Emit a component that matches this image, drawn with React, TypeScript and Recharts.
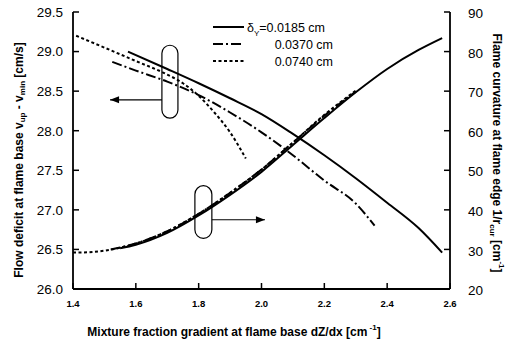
import {
  ComposedChart,
  Line,
  XAxis,
  YAxis,
  Legend,
  ReferenceArea,
  ReferenceLine,
} from "recharts";

// mixture fraction gradient dZ/dx [1/cm] and the matching flow deficit [cm/s]
const gradSolidDeficit = [1.575, 1.7, 1.8, 1.9, 2.0, 2.1, 2.2, 2.3, 2.4, 2.5, 2.575];
const deficitSolid = [29.0, 28.78, 28.6, 28.41, 28.21, 27.96, 27.69, 27.4, 27.09, 26.77, 26.46];

const gradDashDeficit = [1.525, 1.6, 1.7, 1.8, 1.9, 2.0, 2.1, 2.2, 2.3, 2.36];
const deficitDash = [28.87, 28.76, 28.62, 28.45, 28.23, 27.98, 27.69, 27.37, 27.08, 26.8];

const gradDotDeficit = [1.41, 1.5, 1.6, 1.7, 1.75, 1.8, 1.85, 1.9, 1.95];
const deficitDot = [29.2, 29.05, 28.88, 28.71, 28.6, 28.44, 28.23, 27.98, 27.65];

// flame curvature at the flame edge [1/cm]
const gradSolidCurv = [1.55, 1.6, 1.7, 1.8, 1.9, 2.0, 2.1, 2.2, 2.3, 2.4, 2.5, 2.575];
const curvSolid = [30.3, 31.2, 34.2, 38.6, 43.8, 49.6, 56.4, 63.2, 69.7, 75.6, 80.4, 83.4];

const gradDashCurv = [1.52, 1.6, 1.7, 1.8, 1.9, 2.0, 2.1, 2.2, 2.3];
const curvDash = [30.0, 31.5, 34.6, 39.0, 44.3, 50.2, 57.0, 63.8, 69.9];

const gradDotCurv = [1.4, 1.45, 1.5, 1.6, 1.7, 1.8, 1.9, 2.0, 2.1, 2.2, 2.3];
const curvDot = [29.2, 29.3, 29.7, 31.5, 34.6, 39.0, 44.3, 50.2, 57.0, 64.0, 70.1];

const xTicks = [1.4, 1.6, 1.8, 2.0, 2.2, 2.4, 2.6];
const leftTicks = [26.0, 26.5, 27.0, 27.5, 28.0, 28.5, 29.0, 29.5];
const rightTicks = [20, 30, 40, 50, 60, 70, 80, 90];

const legendLabels = ["0.0185 cm", "0.0370 cm", "0.0740 cm"];

const zip = (xs: number[], ys: number[]) => xs.map((x, i) => ({ x, y: ys[i] }));

const FONT = "'Liberation Sans', Arial, Helvetica, sans-serif";
const DASH_DOT = "10 3 2 3";
const DOTTED = "3 2.5";
const LEFT_GAP = 10;
const RIGHT_GAP = 18;
const BOTTOM_GAP = 15;

const LeftTick = ({ x, y, payload }: any) => {
  const ax = x + LEFT_GAP;
  return (
    <g>
      <line x1={ax} y1={y} x2={ax + 6} y2={y} stroke="#000" strokeWidth={1.5} />
      <text x={x} y={y} dy="0.36em" textAnchor="end" fontSize={13.5} fontFamily={FONT} fill="#000">
        {Number(payload.value).toFixed(1)}
      </text>
    </g>
  );
};

const RightTick = ({ x, y, payload }: any) => {
  const ax = x - RIGHT_GAP;
  return (
    <g>
      <line x1={ax} y1={y} x2={ax - 6} y2={y} stroke="#000" strokeWidth={1.5} />
      <text x={x} y={y} dy="0.45em" textAnchor="start" fontSize={13.5} fontFamily={FONT} fill="#000">
        {payload.value}
      </text>
    </g>
  );
};

const BottomTick = ({ x, y, payload }: any) => {
  const ay = y - BOTTOM_GAP;
  return (
    <g>
      <line x1={x} y1={ay} x2={x} y2={ay - 6} stroke="#000" strokeWidth={1.5} />
      <text x={x} y={y} dy="0.36em" textAnchor="middle" fontSize={9.5} fontWeight="bold" fontFamily={FONT} fill="#000">
        {Number(payload.value).toFixed(1)}
      </text>
    </g>
  );
};

const LeftTitle = () => (
  <text
    x={19}
    y={160}
    transform="rotate(-90, 19, 160)"
    textAnchor="middle"
    dominantBaseline="central"
    fontSize={12}
    fontWeight="bold"
    fontFamily={FONT}
    fill="#000"
  >
    Flow deficit at flame base  v
    <tspan dy={3} fontSize={8}>up</tspan>
    <tspan dy={-3}> - v</tspan>
    <tspan dy={3} fontSize={8}>min</tspan>
    <tspan dy={-3}> [cm/s]</tspan>
  </text>
);

const RightTitle = () => (
  <text
    x={497}
    y={153}
    transform="rotate(90, 497, 153)"
    textAnchor="middle"
    dominantBaseline="central"
    fontSize={12}
    fontWeight="bold"
    fontFamily={FONT}
    fill="#000"
  >
    Flame curvature at flame edge  1/r
    <tspan dy={4} fontSize={8}>cur</tspan>
    <tspan dy={-4}>  [cm</tspan>
    <tspan dy={-5} fontSize={8}>-1</tspan>
    <tspan dy={5}>]</tspan>
  </text>
);

const BottomTitle = () => (
  <text
    x={234}
    y={332}
    textAnchor="middle"
    dominantBaseline="central"
    fontSize={12}
    fontWeight="bold"
    fontFamily={FONT}
    fill="#000"
  >
    Mixture fraction gradient at flame base  dZ/dx [cm
    <tspan dy={-5} fontSize={8}> -1</tspan>
    <tspan dy={5}>]</tspan>
  </text>
);

const LegendBox = () => {
  const styles = [undefined, DASH_DOT, DOTTED];
  return (
    <svg width={130} height={50} style={{ overflow: "visible" }}>
      {legendLabels.map((label, i) => {
        const y = 9 + i * 17;
        return (
          <g key={label}>
            <line x1={3} y1={y} x2={34} y2={y} stroke="#000" strokeWidth={2} strokeDasharray={styles[i]} />
            {i === 0 ? (
              <text x={37} y={y} dy="0.36em" fontSize={12.5} fontFamily={FONT} fill="#000">
                δ<tspan dy={4} fontSize={8}>Y</tspan>
                <tspan dy={-4}>=0.0185 cm</tspan>
              </text>
            ) : (
              <text x={123} y={y} dy="0.36em" textAnchor="end" fontSize={12.5} fontFamily={FONT} fill="#000">
                {label}
              </text>
            )}
          </g>
        );
      })}
    </svg>
  );
};

const Oval = ({ x, y, width, height }: any) => (
  <rect x={x} y={y} width={width} height={height} rx={width / 2} ry={width / 2} fill="none" stroke="#000" strokeWidth={1.2} />
);

const Arrow = ({ x1, y1, x2, y2 }: any) => {
  const dir = Math.sign(x2 - x1) || 1;
  return (
    <g>
      <line x1={x1} y1={y1} x2={x2} y2={y2} stroke="#000" strokeWidth={1.2} />
      <polygon points={`${x2},${y2} ${x2 - dir * 9},${y2 - 3.5} ${x2 - dir * 9},${y2 + 3.5}`} fill="#000" />
    </g>
  );
};

export default function App() {
  return (
    <div style={{ position: "absolute", left: 0, top: 0, width: 514, height: 343, background: "#fff" }}>
      <ComposedChart width={514} height={343} margin={{ top: 12, right: 0, bottom: 0, left: 0 }}>
        <XAxis
          xAxisId="bottom"
          dataKey="x"
          type="number"
          domain={[1.4, 2.6]}
          ticks={xTicks}
          interval={0}
          height={54}
          tickSize={0}
          tickMargin={BOTTOM_GAP}
          tick={<BottomTick />}
          axisLine={{ stroke: "#000", strokeWidth: 1.8 }}
          label={{ content: <BottomTitle /> }}
          allowDataOverflow
        />
        <XAxis
          xAxisId="top"
          orientation="top"
          type="number"
          domain={[1.4, 2.6]}
          height={0}
          tick={false}
          tickLine={false}
          axisLine={{ stroke: "#000", strokeWidth: 1.8 }}
        />
        <YAxis
          yAxisId="left"
          type="number"
          domain={[26, 29.5]}
          ticks={leftTicks}
          interval={0}
          width={73}
          tickSize={0}
          tickMargin={LEFT_GAP}
          tick={<LeftTick />}
          axisLine={{ stroke: "#000", strokeWidth: 1.8 }}
          label={{ content: <LeftTitle /> }}
        />
        <YAxis
          yAxisId="right"
          orientation="right"
          type="number"
          domain={[20, 90]}
          ticks={rightTicks}
          interval={0}
          width={64}
          tickSize={0}
          tickMargin={RIGHT_GAP}
          tick={<RightTick />}
          axisLine={{ stroke: "#000", strokeWidth: 1.8 }}
          label={{ content: <RightTitle /> }}
        />
        <Legend
          layout="vertical"
          align="center"
          verticalAlign="middle"
          content={<LegendBox />}
          wrapperStyle={{ left: 210, top: 18, width: 130, height: 50 }}
        />

        <Line xAxisId="bottom" yAxisId="left" data={zip(gradSolidDeficit, deficitSolid)} dataKey="y" type="monotone" stroke="#000" strokeWidth={2} dot={false} isAnimationActive={false} />
        <Line xAxisId="bottom" yAxisId="left" data={zip(gradDashDeficit, deficitDash)} dataKey="y" type="monotone" stroke="#000" strokeWidth={2} strokeDasharray={DASH_DOT} dot={false} isAnimationActive={false} />
        <Line xAxisId="bottom" yAxisId="left" data={zip(gradDotDeficit, deficitDot)} dataKey="y" type="monotone" stroke="#000" strokeWidth={2} strokeDasharray={DOTTED} dot={false} isAnimationActive={false} />

        <Line xAxisId="bottom" yAxisId="right" data={zip(gradSolidCurv, curvSolid)} dataKey="y" type="monotone" stroke="#000" strokeWidth={2} dot={false} isAnimationActive={false} />
        <Line xAxisId="bottom" yAxisId="right" data={zip(gradDashCurv, curvDash)} dataKey="y" type="monotone" stroke="#000" strokeWidth={2} strokeDasharray={DASH_DOT} dot={false} isAnimationActive={false} />
        <Line xAxisId="bottom" yAxisId="right" data={zip(gradDotCurv, curvDot)} dataKey="y" type="monotone" stroke="#000" strokeWidth={2} strokeDasharray={DOTTED} dot={false} isAnimationActive={false} />

        {/* group markers: oval around the curves, arrow toward their axis */}
        <ReferenceArea xAxisId="bottom" yAxisId="left" x1={1.683} x2={1.734} y1={28.16} y2={29.08} shape={<Oval />} />
        <ReferenceLine xAxisId="bottom" yAxisId="left" segment={[{ x: 1.683, y: 28.39 }, { x: 1.518, y: 28.39 }]} shape={<Arrow />} />
        <ReferenceArea xAxisId="bottom" yAxisId="right" x1={1.788} x2={1.842} y1={32.8} y2={46.1} shape={<Oval />} />
        <ReferenceLine xAxisId="bottom" yAxisId="right" segment={[{ x: 1.842, y: 37.5 }, { x: 2.011, y: 37.5 }]} shape={<Arrow />} />
      </ComposedChart>
    </div>
  );
}
